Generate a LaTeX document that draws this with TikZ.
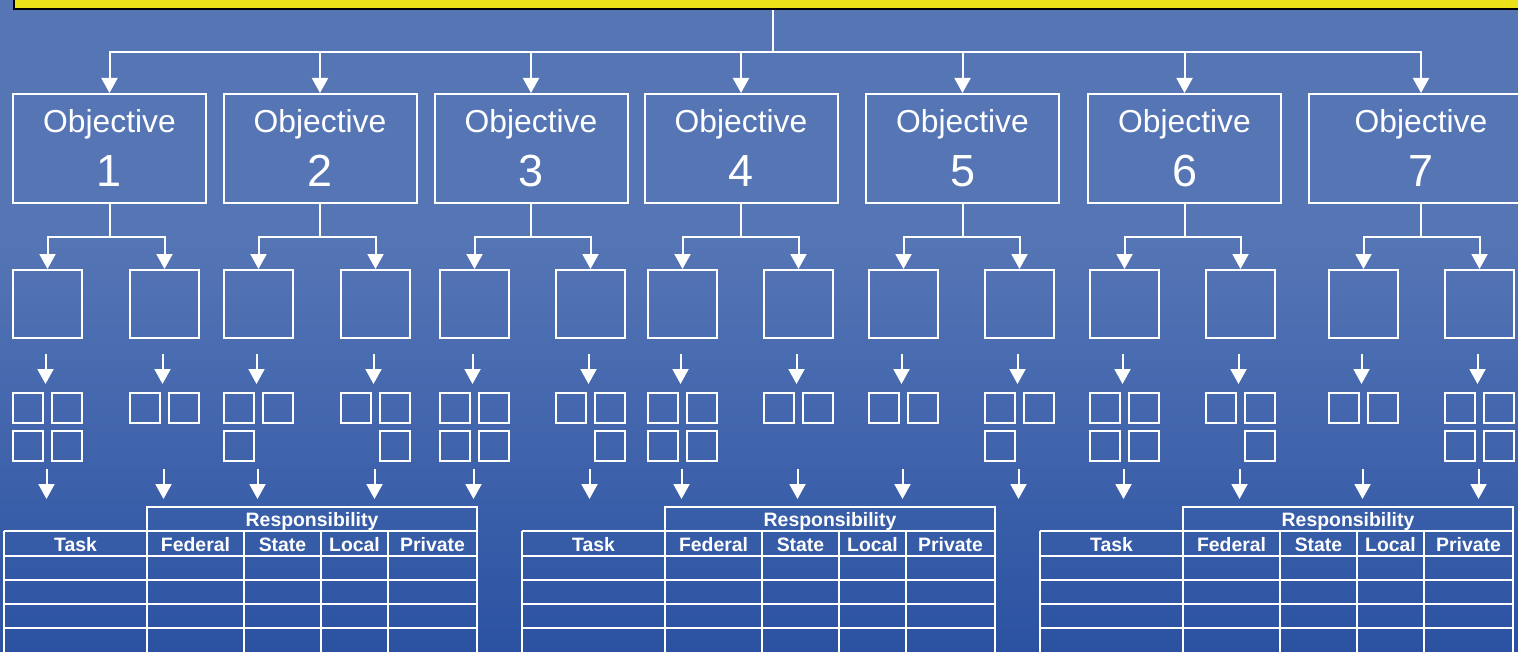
\documentclass[tikz,border=0pt]{standalone}
\usepackage{fontspec}
\setmainfont{Liberation Sans}
\usetikzlibrary{arrows.meta,calc}
\definecolor{bgtop}{RGB}{85,117,181}
\definecolor{bgbot}{RGB}{43,82,162}
\definecolor{goalyellow}{RGB}{236,226,26}
% slide background: flat at the top, darker towards the bottom
\pgfdeclareverticalshading{slide}{100bp}{color(0bp)=(bgbot); color(25bp)=(bgbot); color(56.6bp)=(bgtop); color(75bp)=(bgtop); color(100bp)=(bgtop)}
\begin{document}
\begin{tikzpicture}[x=0.5pt,y=-0.5pt,
  wire/.style={draw=white,line width=1pt},
  arrowed/.style={-{Triangle[width=8pt,length=7.5pt]}},
  objbox/.style={draw=white,line width=1pt,minimum height=54.5pt,inner sep=0pt},
  subbox/.style={draw=white,line width=1pt,minimum width=34.5pt,minimum height=34pt,inner sep=0pt},
  smallbox/.style={draw=white,line width=1pt,minimum size=15pt,inner sep=0pt},
  tableline/.style={draw=white,line width=1pt},
  objword/.style={text=white,font=\fontsize{15.9}{18}\selectfont,anchor=base,inner sep=0pt},
  objnum/.style={text=white,font=\fontsize{22.5}{26}\selectfont,anchor=base,inner sep=0pt},
  head/.style={text=white,font=\bfseries\fontsize{9.7}{11}\selectfont,inner sep=0pt}]

\useasboundingbox (0,0) rectangle (1518,652);
\shade[shading=slide] (0,0) rectangle (1518,652);

% goal bar along the top
\node[draw=black,line width=1pt,fill=goalyellow,anchor=south west,
      minimum width=765pt,minimum height=15pt,inner sep=0pt] (goal) at (13,10) {};
\coordinate (hub) at (773,52);
\coordinate (lvl) at (0,237);
\draw[wire] (goal.south -| hub) -- (hub);

% objectives
\foreach \i/\cx/\w in {1/109.5/96.5pt, 2/320/96.5pt, 3/531/96.5pt, 4/741/96.5pt,
                       5/962.5/96.5pt, 6/1184.5/96.5pt, 7/1421/112pt} {
  \node[objbox,minimum width=\w] (o\i) at (\cx,148.5) {};
  \node[objword] at (\cx,133) {Objective};
  \node[objnum] at (\cx,187) {\i};
  \draw[wire,arrowed] (hub) -| (o\i.north);
}

% sub-objectives and their groups of small boxes
\foreach \g/\p/\xo/\bl/\br in {1/1/13/1/1, 2/1/130/0/0, 3/2/224/1/0, 4/2/341/0/1,
    5/3/440/1/1, 6/3/556/0/1, 7/4/648/1/1, 8/4/764/0/0, 9/5/869/0/0, 10/5/985/1/0,
    11/6/1090/1/1, 12/6/1206/0/1, 13/7/1329/0/0, 14/7/1445/1/1} {
  \node[subbox] (s\g) at (\xo+34.5,304) {};
  \draw[wire,arrowed] (o\p.south) |- (lvl -| s\g.north) -- (s\g.north);
  \node[smallbox] (q\g-a) at (\xo+15,407.5) {};
  \node[smallbox] (q\g-b) at (\xo+54,407.5) {};
  \ifnum\bl=1 \node[smallbox] (q\g-c) at (\xo+15,445.5) {};\fi
  \ifnum\br=1 \node[smallbox] (q\g-d) at (\xo+54,445.5) {};\fi
  \draw[wire,arrowed] ($(s\g.south)+(-2,15)$) -- ($(s\g.south)+(-2,45)$);
  \draw[wire,arrowed] ($(s\g.south)+(-1,130)$) -- ($(s\g.south)+(-1,160)$);
}

% responsibility tables
\foreach \tx in {4,522,1040} {
  \draw[tableline] (\tx+143,507) rectangle (\tx+473,531);
  \foreach \ry in {531,556,580,604,628}
    \draw[tableline] (\tx,\ry) -- (\tx+473,\ry);
  \foreach \cx in {0,143,240,317,384,473}
    \draw[tableline] (\tx+\cx,531) -- (\tx+\cx,665);
  \node[head] at (\tx+308,521) {Responsibility};
  \node[head] at (\tx+71.5,545) {Task};
  \node[head] at (\tx+191.5,545) {Federal};
  \node[head] at (\tx+278.5,545) {State};
  \node[head] at (\tx+350.5,545) {Local};
  \node[head] at (\tx+428.5,545) {Private};
}
\end{tikzpicture}
\end{document}
